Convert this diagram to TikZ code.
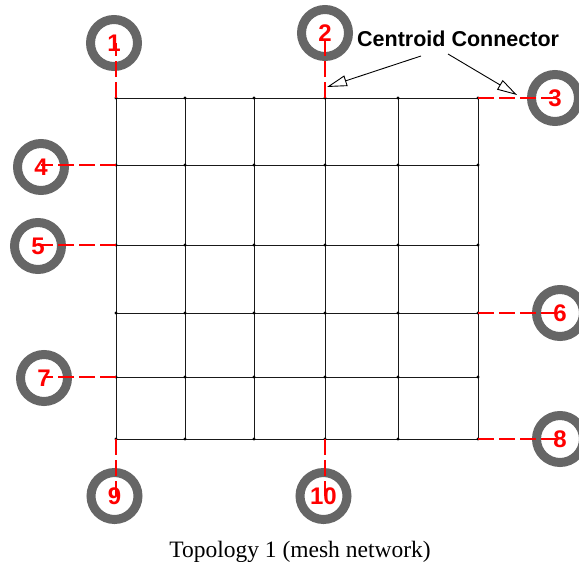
\documentclass[tikz,border=0pt]{standalone}
\usepackage{fontspec}
\setmainfont{Liberation Serif}
\newfontfamily\labelfont{Liberation Sans}
\usetikzlibrary{arrows.meta}
\definecolor{ringgray}{HTML}{666666}
\definecolor{portred}{HTML}{FF0000}
\begin{document}
\begin{tikzpicture}[x=1pt,y=-1pt,
  meshline/.style={black!90, line width=1pt},
  meshdot/.style={circle, fill=black, inner sep=0pt, minimum size=3.4pt},
  portring/.style={circle, draw=ringgray, line width=9pt, minimum size=47pt, inner sep=0pt},
  portnum/.style={text=portred, font=\labelfont\bfseries\fontsize{24}{26}\selectfont, inner sep=0pt},
  portlink/.style={portred, line width=1.1pt, dash pattern=on 16pt off 5pt},
  callout/.style={black, line width=0.9pt, -{Triangle[open, fill=white, length=20pt, width=11pt]}}
]
\useasboundingbox (0,0) rectangle (579,562);

% mesh grid: 6 x 6 junctions
\def\xs{116,185,254,325,398,478}
\def\ys{98,165,245,313,377,439}
\foreach \x [count=\i] in \xs {
  \foreach \y [count=\j] in \ys {
    \coordinate (g-\i-\j) at (\x,\y);
  }
}
\foreach \j in {1,...,6} \draw[meshline] (g-1-\j) -- (g-6-\j);
\foreach \i in {1,...,6} \draw[meshline] (g-\i-1) -- (g-\i-6);
\foreach \i in {1,...,6} \foreach \j in {1,...,6} \node[meshdot] at (g-\i-\j) {};

% ports (rings)
\node[portring] (c1)  at (114,43)  {};
\node[portring] (c2)  at (325,33)  {};
\node[portring] (c3)  at (555,98)  {};
\node[portring] (c4)  at (41,167)  {};
\node[portring] (c5)  at (38,246)  {};
\node[portring] (c6)  at (560,313) {};
\node[portring] (c7)  at (44,378)  {};
\node[portring] (c8)  at (560,439) {};
\node[portring] (c9)  at (114.5,496) {};
\node[portring] (c10) at (323.5,496) {};

% dashed links from the grid to each port
\draw[portlink] (g-1-1) -- (g-1-1 |- c1.center);
\draw[portlink] (g-4-1) -- (g-4-1 |- c2.center);
\draw[portlink] (g-6-1) -- (c3.center |- g-6-1);
\draw[portlink] (g-1-2) -- (c4.center |- g-1-2);
\draw[portlink] (g-1-3) -- (c5.center |- g-1-3);
\draw[portlink] (g-6-4) -- (c6.center |- g-6-4);
\draw[portlink] (g-1-5) -- (c7.center |- g-1-5);
\draw[portlink] (g-6-6) -- (c8.center |- g-6-6);
\draw[portlink] (g-1-6) -- (g-1-6 |- c9.center);
\draw[portlink] (g-4-6) -- (g-4-6 |- c10.center);

% port numbers
\foreach \k in {1,...,10} \node[portnum] (n\k) at (c\k) {\k};

% callout
\node[anchor=base west, inner sep=0pt, font=\labelfont\bfseries\fontsize{21.5}{24}\selectfont] (lbl) at (357,46.5) {Centroid Connector};
\coordinate (a1s) at (421,56);
\coordinate (a1e) at (327,87);
\coordinate (a2s) at (448,54);
\coordinate (a2e) at (517,95);
\draw[callout] (a1s) -- (a1e);
\draw[callout] (a2s) -- (a2e);

% caption
\node[anchor=base, inner sep=0pt, font=\fontsize{23.5}{26}\selectfont] (cap) at (300,557) {Topology 1 (mesh network)};
\end{tikzpicture}
\end{document}
